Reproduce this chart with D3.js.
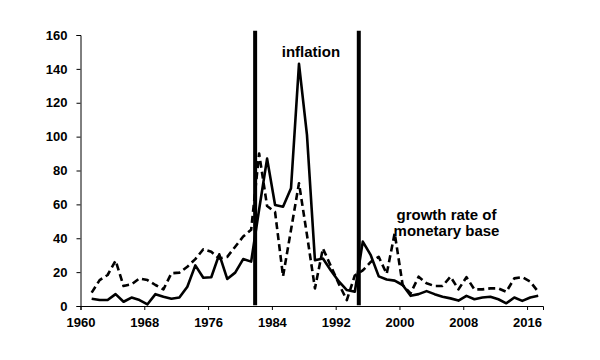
<!DOCTYPE html>
<html>
<head>
<meta charset="utf-8">
<script src="https://cdn.jsdelivr.net/npm/d3@7"></script>
<style>
  html, body { margin: 0; padding: 0; background: #fff; }
  svg { display: block; }
  text { font-family: "Liberation Sans", Arial, sans-serif; font-weight: bold; fill: #000; }
</style>
</head>
<body>
<svg id="chart" width="600" height="360"></svg>
<script>
// ---- data ----
const years = d3.range(1961, 2018);
const inflation = [
  4.3, 3.5, 3.5, 7, 2.5, 5, 3.5, 1, 7, 5.5,
  4.3, 5, 11.4, 24, 16.7, 17, 30.5, 16, 19.7, 27.7,
  26.2, 57, 87, 59.6, 58.6, 69.5, 143, 101, 27, 28,
  21, 14.5, 9.4, 8.4, 38, 30, 17.5, 15.6, 15, 12.4,
  6, 7, 8.8, 7, 5.5, 4.5, 3.2, 6, 4, 5,
  5.5, 4, 1.6, 5, 3, 5, 6
];
const baseGrowth = [
  7.9, 15.3, 18.3, 26.8, 11.8, 12.8, 16.3, 15.3, 12.4, 9.8,
  19.3, 19.7, 23.2, 27.7, 33.5, 32, 28, 29, 35, 41,
  45, 90, 59, 55.5, 17.5, 45, 72.5, 42, 10.4, 34,
  23.5, 13, 3.5, 18, 21, 26, 29, 19, 43, 12.4,
  7.5, 17.3, 13.4, 11.8, 11.8, 17.3, 9.8, 17, 9.8, 9.8,
  10.4, 10.4, 8.4, 16.3, 17, 14.4, 8.4
];
const regimeBreaks = [1981.5, 1994.5];
const xTicks = [1960, 1968, 1976, 1984, 1992, 2000, 2008, 2016];
const yTicks = [0, 20, 40, 60, 80, 100, 120, 140, 160];
const labels = [
  { lines: ["inflation"], year: 1988.9, value: 147.3 },
  { lines: ["growth rate of", "monetary base"], year: 2005.9, value: 50.8 }
];

// ---- layout ----
const svg = d3.select("#chart");
const x = d3.scaleLinear().domain([1960, 2018]).range([80.5, 543]);
const y = d3.scaleLinear().domain([0, 160]).range([306, 35]);
const off = 0.4; // category centre offset

// axes
const yAxis = svg.append("g")
  .attr("transform", `translate(${x(1960)},0)`)
  .call(d3.axisLeft(y).tickValues(yTicks).tickSize(4).tickPadding(9));
const xAxis = svg.append("g")
  .attr("transform", `translate(0,${y(0)})`)
  .call(d3.axisBottom(x).tickValues(xTicks).tickFormat(d3.format("d")).tickSize(4).tickPadding(8));
[yAxis, xAxis].forEach(g => {
  g.selectAll("path, line").attr("stroke", "#000").attr("stroke-width", 1);
  g.selectAll("text").style("font-size", "13px").style("font-weight", "bold")
    .style("font-family", '"Liberation Sans", Arial, sans-serif').attr("fill", "#000");
});

// series
const line = d3.line()
  .x((d, i) => x(years[i] + off))
  .y(d => y(d));

svg.append("path")
  .datum(baseGrowth)
  .attr("fill", "none")
  .attr("stroke", "#000")
  .attr("stroke-width", 2.6)
  .attr("stroke-dasharray", "7,4")
  .attr("stroke-linejoin", "round")
  .attr("d", line);

svg.append("path")
  .datum(inflation)
  .attr("fill", "none")
  .attr("stroke", "#000")
  .attr("stroke-width", 2.6)
  .attr("stroke-linejoin", "round")
  .attr("d", line);

// regime break lines
svg.selectAll(".brk")
  .data(regimeBreaks)
  .enter().append("line")
  .attr("x1", d => x(d + off)).attr("x2", d => x(d + off))
  .attr("y1", y(162.5)).attr("y2", y(0.5))
  .attr("stroke", "#000")
  .attr("stroke-width", 4);

// annotations
labels.forEach(l => {
  const t = svg.append("text")
    .attr("x", x(l.year))
    .attr("y", y(l.value))
    .attr("text-anchor", "middle")
    .style("font-size", "15px");
  l.lines.forEach((s, i) => {
    t.append("tspan").attr("x", x(l.year)).attr("dy", i === 0 ? 0 : 16).text(s);
  });
});
</script>
</body>
</html>
